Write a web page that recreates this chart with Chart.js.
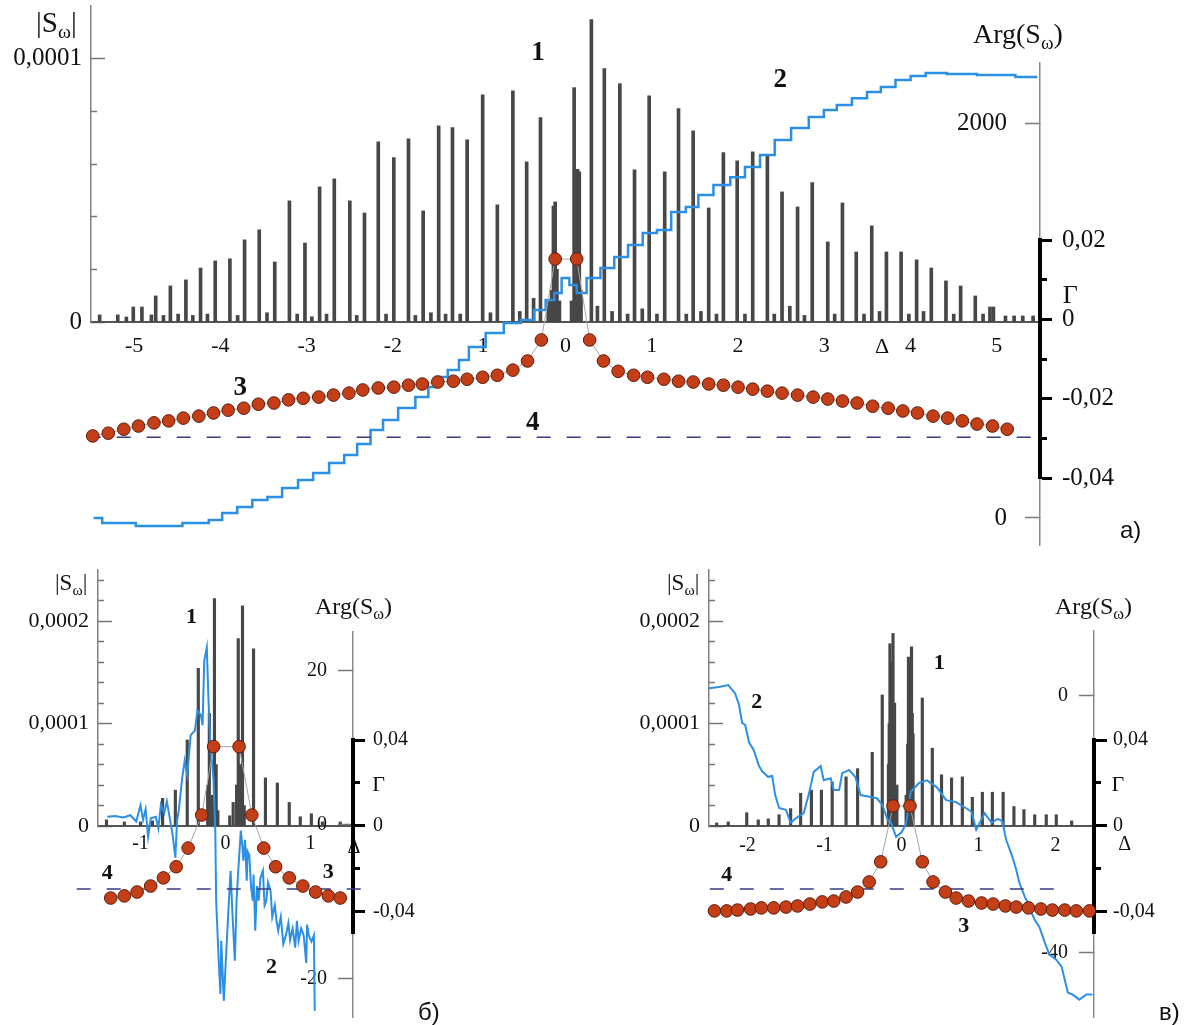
<!DOCTYPE html>
<html>
<head>
<meta charset="utf-8">
<script src="https://cdn.jsdelivr.net/npm/chart.js@4.4.1/dist/chart.umd.min.js"></script>
<style>
  html, body { margin: 0; padding: 0; background: #fff; }
  #fig { position: relative; width: 1198px; height: 1025px; overflow: hidden; background: #fff; }
  #fig canvas { position: absolute; left: 0; top: 0; }
  .t { position: absolute; font-family: "Liberation Serif", serif; color: #111; white-space: nowrap; line-height: 1; }
  .t sub { font-size: 0.68em; vertical-align: -0.3em; line-height: 0; }
  .p { position: absolute; font-family: "Liberation Sans", Arial, sans-serif; font-size: 24px; line-height: 1; color: #111; }
</style>
</head>
<body>
<div id="fig">
  <canvas id="a1" width="1198" height="1025"></canvas>
  <canvas id="a2" width="1198" height="1025"></canvas>
  <canvas id="a3" width="1198" height="1025"></canvas>
  <canvas id="b1" width="1198" height="1025"></canvas>
  <canvas id="b2" width="1198" height="1025"></canvas>
  <canvas id="b3" width="1198" height="1025"></canvas>
  <canvas id="c1" width="1198" height="1025"></canvas>
  <canvas id="c2" width="1198" height="1025"></canvas>
  <canvas id="c3" width="1198" height="1025"></canvas>

  <div class="t" style="left:36px;top:8px;font-size:29px">|S<sub>ω</sub>|</div>
  <div class="t" style="left:973px;top:20px;font-size:28px">Arg(S<sub>ω</sub>)</div>
  <div class="p" style="left:1120px;top:518px">а)</div>

  <div class="t" style="left:55px;top:571px;font-size:23px">|S<sub>ω</sub>|</div>
  <div class="t" style="left:315px;top:594px;font-size:24px">Arg(S<sub>ω</sub>)</div>
  <div class="p" style="left:418px;top:1000px">б)</div>

  <div class="t" style="left:667px;top:571px;font-size:23px">|S<sub>ω</sub>|</div>
  <div class="t" style="left:1055px;top:594px;font-size:24px">Arg(S<sub>ω</sub>)</div>
  <div class="p" style="left:1159px;top:1000px">в)</div>
</div>

<script>
// ---------- а) ----------
// спектр |S| (в единицах 1e-5)
const aBarD = [-5.40,-5.19,-5.09,-5.01,-4.91,-4.80,-4.75,-4.66,-4.58,-4.49,
  -4.40,-4.32,-4.23,-4.15,-4.06,-3.89,-3.80,-3.72,-3.55,-3.46,
  -3.37,-3.20,-3.11,-3.02,-2.94,-2.85,-2.77,-2.68,-2.50,-2.42,
  -2.33,-2.17,-2.08,-1.99,-1.82,-1.74,-1.65,-1.56,-1.47,-1.39,
  -1.31,-1.22,-1.14,-0.96,-0.87,-0.79,-0.61,-0.53,-0.45,-0.37,
  -0.29,-0.20,-0.16,-0.14,-0.12,-0.10,-0.07,0.07,0.10,0.13,
  0.14,0.16,0.18,0.30,0.37,0.45,0.54,0.63,0.72,0.80,
  0.89,0.97,1.06,1.15,1.31,1.40,1.48,1.57,1.66,1.75,
  1.83,1.99,2.08,2.17,2.34,2.42,2.51,2.60,2.69,2.77,
  2.86,3.04,3.12,3.21,3.37,3.46,3.55,3.64,3.72,3.89,
  3.98,4.07,4.15,4.24,4.41,4.50,4.58,4.75,4.84,4.92,
  4.96,5.10,5.20,5.30,5.42];
const aBarS = [0.27,0.27,0.19,0.57,0.57,0.27,0.99,0.25,1.37,0.3,
  1.60,0.25,2.05,0.3,2.32,2.40,0.25,3.12,3.50,0.35,
  2.28,4.60,0.3,3.00,0.2,5.13,0.3,5.44,4.60,0.25,
  4.14,6.84,0.3,6.24,6.96,0.25,4.22,0.35,7.45,0.3,
  7.38,0.3,6.92,8.63,0.35,4.45,8.78,0.4,6.08,0.9,
  7.76,0.8,1.2,4.4,4.56,2.0,0.8,0.8,8.90,1.5,
  5.8,5.7,1.2,11.48,0.6,9.62,0.4,9.05,0.3,5.78,
  0.5,8.59,0.3,5.70,8.10,0.3,7.26,0.4,4.33,0.3,
  6.43,6.12,0.3,6.46,6.35,0.3,4.94,0.6,4.37,0.25,
  5.29,3.04,0.3,4.52,2.66,0.3,3.65,0.4,2.66,2.66,
  0.3,2.36,0.4,2.05,1.56,0.3,1.37,0.99,0.3,0.57,
  0.57,0.23,0.23,0.23,0.23];
// фаза Arg(S)
const aArgD = [-5.47,-5.27,-4.69,-4.19,-4.08,-3.88,-3.73,-3.53,-3.38,-3.19,
  -3.01,-2.84,-2.64,-2.49,-2.34,-2.18,-2.05,-1.83,-1.65,-1.53,
  -1.48,-1.25,-1.22,-1.02,-0.83,-0.60,-0.44,-0.29,-0.17,-0.09,
  0,0.09,0.17,0.32,0.49,0.64,0.81,0.98,1.14,1.31,
  1.48,1.60,1.83,1.99,2.17,2.34,2.51,2.72,2.92,3.07,
  3.22,3.42,3.57,3.74,3.91,4.09,4.26,4.58,4.96,5.47];
const aArgV = [0,-25,-41,-25,-10,25,56,91,106,152,
  192,228,278,319,375,446,496,557,613,663,
  714,749,800,866,937,987,1002,1053,1104,1139,
  1215,1180,1139,1215,1266,1321,1382,1443,1458,1549,
  1575,1635,1686,1726,1777,1838,1914,1975,2030,2066,
  2091,2126,2157,2182,2218,2238,2253,2248,2243,2233];
// Г
const aGamD = [-5.48,-5.30,-5.12,-4.95,-4.77,-4.60,-4.43,-4.25,-4.08,-3.91,
  -3.73,-3.56,-3.38,-3.21,-3.04,-2.86,-2.69,-2.51,-2.35,-2.17,
  -1.99,-1.82,-1.66,-1.48,-1.30,-1.14,-0.96,-0.79,-0.61,-0.44,
  -0.28,-0.12,0.13,0.28,0.44,0.61,0.79,0.95,1.14,1.31,
  1.48,1.66,1.83,2.00,2.17,2.34,2.51,2.69,2.87,3.04,
  3.21,3.38,3.56,3.74,3.91,4.08,4.26,4.43,4.60,4.77,
  4.95,5.12];
const aGamV = [-0.0294,-0.0287,-0.0277,-0.0269,-0.0261,-0.0256,-0.0249,-0.0244,-0.0236,-0.0229,
  -0.0224,-0.0214,-0.0211,-0.0203,-0.0199,-0.0196,-0.0191,-0.0186,-0.0178,-0.0173,
  -0.0171,-0.0166,-0.0163,-0.0158,-0.0156,-0.0151,-0.0146,-0.0141,-0.0128,-0.0105,
  -0.0052,0.0152,0.0152,-0.0052,-0.0105,-0.0131,-0.0141,-0.0146,-0.0151,-0.0156,
  -0.0158,-0.0163,-0.0166,-0.0171,-0.0176,-0.0181,-0.0186,-0.0191,-0.0196,-0.0201,
  -0.0206,-0.0211,-0.0219,-0.0224,-0.0231,-0.0236,-0.0244,-0.0249,-0.0256,-0.0264,
  -0.0269,-0.0277];
const aLine4D = [-5.55, 5.50];
const aLine4V = [-0.0297, -0.0297];

// ---------- б) ----------
const bBarD = [-1.40,-1.19,-1.00,-0.86,-0.74,-0.59,-0.45,-0.32,-0.21,-0.19,
  -0.16,-0.13,-0.11,-0.09,0.05,0.09,0.13,0.15,0.17,0.20,
  0.22,0.33,0.47,0.61,0.75,0.88,1.01,1.14,1.35];
const bBarS = [0.6,0.4,0.4,0.5,2.7,3.5,8.4,15.4,4.0,11.0,
  3.0,22.2,6.0,1.5,1.0,2.3,4.0,18.3,6.0,21.5,
  2.0,17.3,4.7,4.2,2.3,0.9,1.2,0.4,0.4];
const bArgD = [-1.39,-1.30,-1.20,-1.12,-1.05,-1.00,-0.97,-0.94,-0.91,-0.88,
  -0.82,-0.79,-0.76,-0.72,-0.69,-0.65,-0.62,-0.59,-0.57,-0.55,
  -0.51,-0.48,-0.45,-0.41,-0.36,-0.33,-0.29,-0.27,-0.25,-0.22,
  -0.20,-0.18,-0.14,-0.12,-0.11,-0.08,-0.06,-0.05,-0.02,0.01,
  0.04,0.06,0.08,0.11,0.13,0.15,0.18,0.20,0.21,0.23,
  0.25,0.26,0.28,0.30,0.32,0.33,0.35,0.37,0.39,0.41,
  0.44,0.46,0.48,0.50,0.53,0.55,0.58,0.60,0.62,0.65,
  0.68,0.71,0.74,0.76,0.79,0.82,0.84,0.86,0.89,0.92,
  0.95,0.96,0.98,1.01,1.04,1.05];
const bArgV = [1.0,1.1,0.9,1.2,0.4,2.5,0.6,2.0,-1.6,0.8,
  1.0,-0.5,2.6,1.5,3.0,0.5,-1.5,-4.3,0.5,1.8,
  6.0,8.3,6.4,11.6,12.2,14.8,14.2,12.9,21.3,23.0,
  16.1,10.9,5.7,-0.8,-9.9,-17.7,-22.0,-15.1,-22.9,-16.4,
  -9.9,-6.0,-11.2,-17.7,-9.9,-6.0,-0.8,-3.0,-4.7,-2.0,
  -7.3,-3.5,-4.0,-8.0,-9.9,-6.5,-13.8,-8.0,-9.9,-7.0,
  -6.0,-10.5,-9.9,-7.5,-8.6,-12.0,-10.5,-12.5,-13.8,-12.0,
  -15.5,-14.4,-12.8,-15.0,-13.5,-16.0,-12.5,-15.1,-13.5,-14.4,
  -18.0,-13.0,-14.4,-15.2,-14.4,-24.2];
const bGamD = [-1.35,-1.19,-1.04,-0.88,-0.73,-0.58,-0.44,-0.28,-0.14,
  0.16,0.31,0.45,0.59,0.75,0.91,1.06,1.21,1.35];
const bGamV = [-0.0337,-0.0327,-0.0309,-0.0281,-0.0243,-0.0191,-0.0104,0.0050,0.0369,
  0.0369,0.0050,-0.0104,-0.0191,-0.0243,-0.0281,-0.0309,-0.0327,-0.0337];
const bLine4D = [-1.75, 1.71];
const bLine4V = [-0.0295, -0.0295];

// ---------- в) ----------
const cBarD = [-2.40,-2.25,-2.01,-1.86,-1.73,-1.59,-1.44,-1.31,-1.17,-1.04,
  -0.90,-0.72,-0.57,-0.38,-0.25,-0.17,-0.16,-0.15,-0.14,-0.13,
  -0.12,-0.11,-0.10,-0.09,-0.06,0.06,0.08,0.09,0.10,0.11,
  0.12,0.13,0.14,0.15,0.27,0.40,0.52,0.65,0.79,0.92,
  1.05,1.18,1.32,1.46,1.59,1.73,1.88,2.01,2.21];
const cBarS = [0.3,0.4,1.3,0.6,0.7,1.1,1.7,3.2,3.5,3.5,
  4.3,4.8,5.6,7.2,12.8,6.0,10.0,17.8,14.0,16.0,
  13.0,18.8,9.0,12.0,4.0,3.0,8.0,16.5,12.0,15.0,
  14.0,17.5,11.0,9.0,12.5,7.6,5.0,4.7,4.8,2.8,
  3.3,3.3,3.3,1.9,1.6,1.1,1.1,1.1,0.5];
const cArgD = [-2.50,-2.37,-2.25,-2.16,-2.11,-2.07,-2.03,-1.98,-1.92,-1.85,
  -1.81,-1.73,-1.68,-1.64,-1.59,-1.50,-1.44,-1.36,-1.27,-1.20,
  -1.14,-1.05,-1.01,-0.92,-0.88,-0.81,-0.77,-0.68,-0.60,-0.53,
  -0.40,-0.32,-0.25,-0.18,-0.14,-0.07,0.00,0.06,0.12,0.23,
  0.33,0.46,0.58,0.71,0.82,0.91,0.97,1.08,1.17,1.25,
  1.31,1.36,1.44,1.49,1.53,1.60,1.64,1.69,1.73,1.79,
  1.86,1.92,2.01,2.08,2.12,2.16,2.22,2.31,2.40,2.48];
const cArgV = [1.1,1.3,1.6,0.3,-1.5,-4.3,-4.6,-7.3,-8.5,-11.0,
  -11.8,-12.7,-12.5,-15.5,-17.5,-17.8,-19.8,-19.0,-18.3,-15.2,
  -11.9,-11.0,-13.2,-12.9,-14.7,-14.7,-12.1,-11.6,-12.7,-15.5,
  -15.8,-16.0,-17.0,-19.4,-19.7,-22.0,-21.3,-20.0,-15.0,-13.6,
  -13.2,-14.3,-16.3,-16.6,-17.4,-18.1,-20.9,-18.3,-19.8,-19.2,
  -19.6,-22.5,-25.1,-27.1,-29.1,-31.3,-32.2,-33.8,-34.9,-36.0,
  -38.4,-40.3,-41.1,-42.2,-44.2,-46.2,-46.5,-47.3,-46.5,-46.5];
const cGamD = [-2.43,-2.27,-2.13,-1.96,-1.82,-1.66,-1.50,-1.35,-1.19,-1.03,
  -0.88,-0.72,-0.57,-0.42,-0.27,-0.11,0.11,0.27,0.41,0.57,
  0.71,0.87,1.04,1.19,1.35,1.49,1.65,1.81,1.96,2.12,2.27,2.44];
const cGamV = [-0.0397,-0.0397,-0.0393,-0.0388,-0.0383,-0.0383,-0.0379,-0.0374,-0.0365,-0.0355,
  -0.0351,-0.0332,-0.0309,-0.0262,-0.0168,0.0092,0.0092,-0.0168,-0.0262,-0.0309,
  -0.0337,-0.0351,-0.0360,-0.0365,-0.0374,-0.0379,-0.0383,-0.0388,-0.0393,-0.0393,
  -0.0397,-0.0397];
const cLine4D = [-2.49, 2.09];
const cLine4V = [-0.0295, -0.0295];

// подписи кривых: [текст, Δ, значение, ось, шрифт]
const BIG = 'bold 27px "Liberation Serif"';
const MID = 'bold 22px "Liberation Serif"';
const aAmpMarks = [['1', -0.32, 1.02e-4, 'y', BIG], ['Δ', 3.67, -0.95e-5, 'y', '22px "Liberation Serif"']];
const aArgMarks = [['2', 2.49, 2218, 'arg', BIG]];
const aGamMarks = [['3', -3.77, -0.0173, 'gam', BIG], ['4', -0.38, -0.0261, 'gam', BIG], ['Γ', 5.85, 0.0059, 'gam', '26px "Liberation Serif"']];
const bAmpMarks = [['1', -0.40, 2.04e-4, 'y', MID], ['Δ', 1.51, -2.15e-5, 'y', '20px "Liberation Serif"']];
const bArgMarks = [['2', 0.54, -18.6, 'arg', MID]];
const bGamMarks = [['3', 1.21, -0.0215, 'gam', MID], ['4', -1.39, -0.0220, 'gam', MID], ['Γ', 1.80, 0.0191, 'gam', '22px "Liberation Serif"']];
const cAmpMarks = [['1', 0.49, 1.59e-4, 'y', MID], ['Δ', 2.90, -1.85e-5, 'y', '20px "Liberation Serif"']];
const cArgMarks = [['2', -1.88, -1.1, 'arg', MID]];
const cGamMarks = [['3', 0.81, -0.0467, 'gam', MID], ['4', -2.27, -0.0229, 'gam', MID], ['Γ', 2.81, 0.0191, 'gam', '22px "Liberation Serif"']];

const W = 1198, H = 1025;
const SERIF = 'Liberation Serif';

function fmt(v) { return v === 0 ? '0' : String(v).replace('.', ','); }
function xy(xs, ys, k) { return xs.map((x, i) => ({ x: x, y: ys[i] * (k || 1) })); }
function setTicks(list) { return s => { s.ticks = list.map(v => ({ value: v })); }; }
function vFit(w) { return s => { s.width = w; s.paddingTop = 0; s.paddingBottom = 0; }; }
function hFit(h) { return s => { s.height = h; s.paddingLeft = 0; s.paddingRight = 0; }; }

function marks(items) {
  return {
    id: 'marks',
    afterDraw(chart) {
      const ctx = chart.ctx;
      items.forEach(it => {
        ctx.save();
        ctx.font = it[4];
        ctx.fillStyle = '#111';
        ctx.textAlign = 'center';
        ctx.textBaseline = 'middle';
        ctx.fillText(it[0], chart.scales.x.getPixelForValue(it[1]), chart.scales[it[3]].getPixelForValue(it[2]));
        ctx.restore();
      });
    }
  };
}

function base(pad) {
  return {
    responsive: false, animation: false, events: [], devicePixelRatio: 1,
    layout: { padding: pad },
    plugins: { legend: { display: false }, tooltip: { enabled: false } }
  };
}

// |S| - столбики и левая ось, ось Δ
function ampChart(id, g, bars, items) {
  const o = base({ left: g.x0 - 80, right: W - g.x1, top: g.sTop, bottom: H - g.base - 40 });
  o.scales = {
    x: {
      type: 'linear', min: g.xMin, max: g.xMax, offset: false,
      afterBuildTicks: setTicks(g.xTicks), afterFit: hFit(40),
      grid: { display: false, drawTicks: false },
      border: { display: true, color: '#555', width: 2 },
      ticks: { autoSkip: false, maxRotation: 0, padding: g.xPad, color: '#111',
        font: { family: SERIF, size: g.xFont }, callback: v => fmt(v) }
    },
    y: {
      type: 'linear', position: 'left', min: 0, max: g.sMax,
      afterBuildTicks: setTicks(g.sTicks), afterFit: vFit(80),
      grid: { display: true, drawOnChartArea: false, tickLength: -14, tickColor: '#777', tickWidth: 1.5,
        tickBorderDash: c => (c.tick && g.sLab.includes(c.tick.value)) ? [] : [0, 8, 6, 40] },
      border: { display: true, color: '#808080', width: 1.5 },
      ticks: { autoSkip: false, padding: 23, color: '#111',
        font: { family: SERIF, size: g.sFont }, callback: v => g.sLab.includes(v) ? fmt(v) : '' }
    }
  };
  return new Chart(document.getElementById(id), {
    type: 'bar',
    data: { datasets: [{ data: bars, backgroundColor: '#474747', borderWidth: 0, barThickness: g.barW }] },
    options: o,
    plugins: [marks(items)]
  });
}

// Arg(S) - синяя кривая и правая ось
function argChart(id, g, line, items) {
  const o = base({ left: g.x0, right: W - g.x1 - 2, top: g.argTop, bottom: H - g.argBot });
  o.scales = {
    x: { type: 'linear', display: false, min: g.xMin, max: g.xMax },
    arg: {
      type: 'linear', position: 'right', min: g.argMin, max: g.argMax,
      afterBuildTicks: setTicks(g.argTicks), afterFit: vFit(2),
      grid: { display: true, drawOnChartArea: false, tickLength: -15, tickColor: '#777', tickWidth: 1.5 },
      border: { display: true, color: '#8a8a8a', width: 1.5 },
      ticks: { autoSkip: false, mirror: true, padding: -g.argGap, color: '#111',
        font: { family: SERIF, size: g.argFont }, callback: v => fmt(v) }
    }
  };
  return new Chart(document.getElementById(id), {
    type: 'line',
    data: { datasets: [{ data: line, yAxisID: 'arg', borderColor: '#2b8fe3', borderWidth: g.lw,
      pointRadius: 0, tension: 0, fill: false, stepped: g.stepped }] },
    options: o,
    plugins: [marks(items)]
  });
}

// Г - точки, штриховая линия 4, жирная ось
function gamChart(id, g, dots, dash, items) {
  const o = base({ left: g.x0, right: W - g.x1 - 100, top: g.gTop, bottom: H - g.gBot });
  o.scales = {
    x: { type: 'linear', display: false, min: g.xMin, max: g.xMax },
    gam: {
      type: 'linear', position: 'right', min: g.gMin, max: g.gMax,
      afterBuildTicks: setTicks(g.gTicks), afterFit: vFit(100),
      grid: { display: true, drawOnChartArea: false, tickLength: g.gTickLen, tickColor: '#000', tickWidth: 3,
        tickBorderDash: c => (c.tick && g.gLab.includes(c.tick.value)) ? [] : [5, 40] },
      border: { display: true, color: '#000', width: 4 },
      ticks: { autoSkip: false, padding: g.gPad, color: '#111',
        font: { family: SERIF, size: g.gFont }, callback: v => g.gLab.includes(v) ? fmt(v) : '' }
    }
  };
  return new Chart(document.getElementById(id), {
    type: 'line',
    data: { datasets: [
      { data: dots, yAxisID: 'gam', borderColor: '#a6a6a6', borderWidth: 1, tension: 0,
        pointRadius: 6.3, pointBackgroundColor: '#c43f18', pointBorderColor: '#5c1d0c', pointBorderWidth: 1, clip: false },
      { data: dash, yAxisID: 'gam', borderColor: '#3b3b85', borderWidth: 1.5, borderDash: [14, 16],
        pointRadius: 0, clip: false }
    ] },
    options: o,
    plugins: [marks(items)]
  });
}

const gA = {
  x0: 91, x1: 1040, xMin: -5.5, xMax: 5.5, xTicks: [-5, -4, -3, -2, -1, 0, 1, 2, 3, 4, 5], xPad: 11, xFont: 22,
  sTop: 6, base: 322, sMax: 1.2e-4, sTicks: [0, 2e-5, 4e-5, 6e-5, 8e-5, 1e-4], sLab: [0, 1e-4], sFont: 25, barW: 3,
  argTop: 63, argBot: 545, argMin: -137, argMax: 2304, argTicks: [0, 2000], argGap: 33, argFont: 25, lw: 2.5, stepped: 'middle',
  gTop: 240, gBot: 478, gMin: -0.04, gMax: 0.02, gTicks: [0.02, 0.01, 0, -0.01, -0.02, -0.03, -0.04],
  gLab: [0.02, 0, -0.02, -0.04], gTickLen: 12, gPad: 10, gFont: 25
};
const gB = {
  x0: 98, x1: 353, xMin: -1.5, xMax: 1.5, xTicks: [-1, 0, 1], xPad: 6, xFont: 20,
  sTop: 570, base: 826, sMax: 2.5e-4,
  sTicks: [0, 2e-5, 4e-5, 6e-5, 8e-5, 1e-4, 1.2e-4, 1.4e-4, 1.6e-4, 1.8e-4, 2e-4, 2.2e-4, 2.4e-4],
  sLab: [0, 1e-4, 2e-4], sFont: 22, barW: 2.5,
  argTop: 632, argBot: 1017, argMin: -25, argMax: 25, argTicks: [-20, 0, 20], argGap: 26, argFont: 20, lw: 2, stepped: false,
  gTop: 740, gBot: 933, gMin: -0.05, gMax: 0.04, gTicks: [0.04, 0.02, 0, -0.02, -0.04],
  gLab: [0.04, 0, -0.04], gTickLen: 12, gPad: 8, gFont: 20
};
const gC = {
  x0: 709, x1: 1094, xMin: -2.5, xMax: 2.5, xTicks: [-2, -1, 0, 1, 2], xPad: 8, xFont: 20,
  sTop: 570, base: 826, sMax: 2.5e-4,
  sTicks: [0, 2e-5, 4e-5, 6e-5, 8e-5, 1e-4, 1.2e-4, 1.4e-4, 1.6e-4, 1.8e-4, 2e-4, 2.2e-4, 2.4e-4],
  sLab: [0, 1e-4, 2e-4], sFont: 22, barW: 2.5,
  argTop: 631, argBot: 1017, argMin: -50, argMax: 10, argTicks: [-40, 0], argGap: 26, argFont: 20, lw: 2, stepped: false,
  gTop: 740, gBot: 933, gMin: -0.05, gMax: 0.04, gTicks: [0.04, 0.02, 0, -0.02, -0.04],
  gLab: [0.04, 0, -0.04], gTickLen: 13, gPad: 6, gFont: 20
};

ampChart('a1', gA, xy(aBarD, aBarS, 1e-5), aAmpMarks);
argChart('a2', gA, xy(aArgD, aArgV), aArgMarks);
gamChart('a3', gA, xy(aGamD, aGamV), xy(aLine4D, aLine4V), aGamMarks);

ampChart('b1', gB, xy(bBarD, bBarS, 1e-5), bAmpMarks);
argChart('b2', gB, xy(bArgD, bArgV), bArgMarks);
gamChart('b3', gB, xy(bGamD, bGamV), xy(bLine4D, bLine4V), bGamMarks);

ampChart('c1', gC, xy(cBarD, cBarS, 1e-5), cAmpMarks);
argChart('c2', gC, xy(cArgD, cArgV), cArgMarks);
gamChart('c3', gC, xy(cGamD, cGamV), xy(cLine4D, cLine4V), cGamMarks);
</script>
</body>
</html>
